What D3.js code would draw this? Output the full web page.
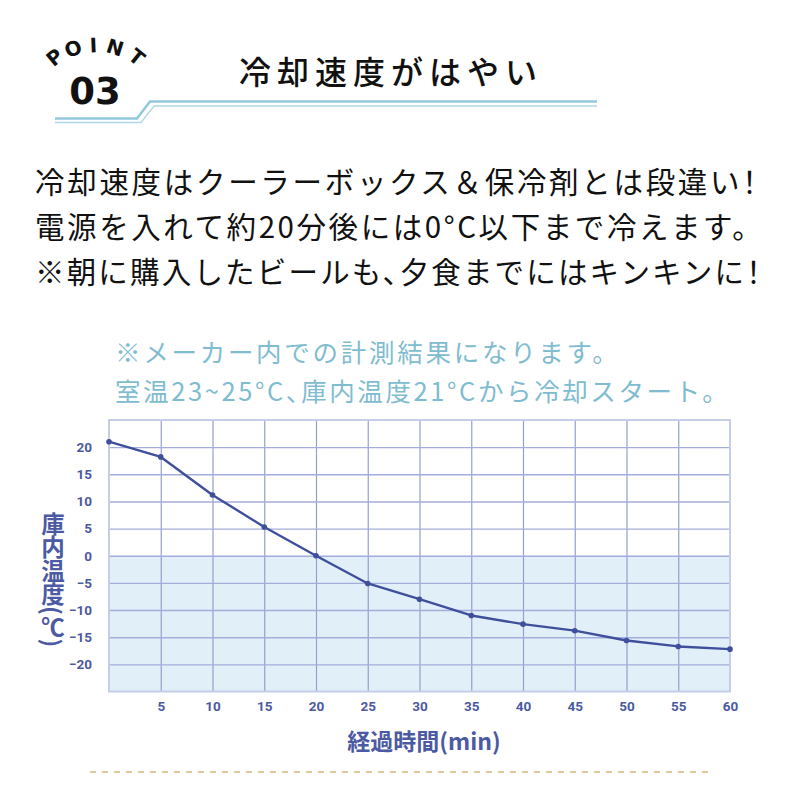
<!DOCTYPE html>
<html><head><meta charset="utf-8">
<script src="https://cdn.jsdelivr.net/npm/d3@7"></script>
<style>
html,body{margin:0;padding:0;background:#fff;}
svg{display:block;}
</style></head>
<body>
<svg id="c" width="800" height="800"></svg>
<script>
// ---- data ----
const minutes = [0,5,10,15,20,25,30,35,40,45,50,55,60];
const temps   = [21,18.2,11.2,5.3,0,-5.1,-8,-11,-12.6,-13.8,-15.6,-16.7,-17.2];
const xTickValues = [5,10,15,20,25,30,35,40,45,50,55,60];
const yTickValues = [-20,-15,-10,-5,0,5,10,15,20];
const pointLetters = ["P","O","I","N","T"];
const pointAngles = [-33,-17.5,-2,14.5,32.5];
const pointNumber = "03";
const titleText = "冷却速度がはやい";
const bodyLines = [
  "冷却速度はクーラーボックス＆保冷剤とは段違い！",
  "電源を入れて約20分後には0°C以下まで冷えます。",
  "※朝に購入したビールも、夕食までにはキンキンに！"
];
const noteLines = [
  "※メーカー内での計測結果になります。",
  "室温23~25°C、庫内温度21°Cから冷却スタート。"
];
const yTitle = "庫内温度(℃)";
const xTitle = "経過時間(min)";

const svg = d3.select("#c");
const CJK = "'Noto Sans CJK JP','Noto Sans',sans-serif";

// ---- header ----
const pc = {x:96, y:121, r:76};
svg.append("g").selectAll("text").data(pointLetters).join("text")
  .attr("transform",(d,i)=>{
    const a = pointAngles[i]*Math.PI/180;
    const px = pc.x + pc.r*Math.sin(a), py = pc.y - pc.r*Math.cos(a);
    return `translate(${px},${py}) rotate(${pointAngles[i]*1.2})`;
  })
  .attr("text-anchor","middle").attr("dy","0.36em")
  .style("font-family","'DejaVu Sans',sans-serif").style("font-weight",700)
  .style("font-size","20px").attr("fill","#111").text(d=>d);

svg.append("text").attr("x",95).attr("y",104).attr("text-anchor","middle")
  .style("font-family","'DejaVu Sans',sans-serif").style("font-weight",700)
  .style("font-size","37px").attr("fill","#111").text(pointNumber);

svg.append("text").attr("x",239).attr("y",84)
  .style("font-family",CJK).style("font-weight",500)
  .style("font-size","32px").style("letter-spacing","6px")
  .attr("fill","#111").text(titleText);

svg.append("path").attr("d","M55,118.5 L137,118.5 L150,101.5 L597,101.5")
  .attr("fill","none").attr("stroke","#94c8dc").attr("stroke-width",2.6);
svg.append("path").attr("d","M55,122.5 L141,122.5 L154,106 L597,106")
  .attr("fill","none").attr("stroke","#b0d8e6").attr("stroke-width",1.4);

// ---- body text ----
const bodyLen = [722, 712, 726];
svg.append("g").selectAll("text").data(bodyLines).join("text")
  .attr("x",35).attr("y",(d,i)=>193+i*45)
  .attr("textLength",(d,i)=>bodyLen[i]).attr("lengthAdjust","spacing")
  .style("font-feature-settings","'halt' 1")
  .style("font-family",CJK).style("font-weight",400)
  .style("font-size","29.5px").attr("fill","#111").text(d=>d);

const noteLen = [490, 600];
svg.append("g").selectAll("text").data(noteLines).join("text")
  .attr("x",115).attr("y",(d,i)=>362+i*39)
  .attr("textLength",(d,i)=>noteLen[i]).attr("lengthAdjust","spacing")
  .style("font-feature-settings","'halt' 1")
  .style("font-family",CJK).style("font-weight",400)
  .style("font-size","25.5px").attr("fill","#80bccf").text(d=>d);

// ---- chart ----
const x = d3.scaleLinear().domain([0,60]).range([109,730]);
const y = d3.scaleLinear().domain([-25,25]).range([691.5,420]);
const g = svg.append("g");

g.append("rect").attr("x",x(0)).attr("y",y(0)).attr("width",x(60)-x(0)).attr("height",y(-25)-y(0)).attr("fill","#e1f0f8");

const gridX = g.append("g").attr("transform",`translate(0,${y(-25)})`)
  .call(d3.axisBottom(x).tickValues(xTickValues.filter(v=>v<60)).tickSize(-(y(-25)-y(25))).tickFormat(""));
gridX.select(".domain").remove();
gridX.selectAll("line").attr("stroke","#939fcf").attr("stroke-width",1.2);
const gridY = g.append("g").attr("transform",`translate(${x(0)},0)`)
  .call(d3.axisLeft(y).tickValues(yTickValues).tickSize(-(x(60)-x(0))).tickFormat(""));
gridY.select(".domain").remove();
gridY.selectAll("line").attr("stroke","#a3addb").attr("stroke-width",1.4);
g.append("rect").attr("x",x(0)).attr("y",y(25)).attr("width",x(60)-x(0)).attr("height",y(-25)-y(25))
  .attr("fill","none").attr("stroke","#c6cee6").attr("stroke-width",2);

const tickFont = s => s.style("font-family","Roboto,sans-serif").style("font-weight",700).style("font-size","13.5px").attr("fill","#4b5a9f");
const ax = g.append("g").attr("transform",`translate(0,${y(-25)})`)
  .call(d3.axisBottom(x).tickValues(xTickValues).tickSize(0).tickPadding(10));
ax.select(".domain").remove();
ax.selectAll("text").call(tickFont);
const ay = g.append("g").attr("transform",`translate(${x(0)},0)`)
  .call(d3.axisLeft(y).tickValues(yTickValues).tickSize(0).tickPadding(17));
ay.select(".domain").remove();
ay.selectAll("text").call(tickFont);

const data = minutes.map((m,i)=>({m, t:temps[i]}));
g.append("path").datum(data)
  .attr("d", d3.line().x(d=>x(d.m)).y(d=>y(d.t)))
  .attr("fill","none").attr("stroke","#3e4f9c").attr("stroke-width",2.4).attr("stroke-linejoin","round");
g.append("g").selectAll("circle").data(data).join("circle")
  .attr("cx",d=>x(d.m)).attr("cy",d=>y(d.t)).attr("r",2.8).attr("fill","#3e4f9c");

// titles
svg.append("text").attr("x",53).attr("y",512)
  .style("writing-mode","vertical-rl").style("text-orientation","mixed")
  .style("font-family",CJK).style("font-weight",700).style("font-size","23.5px")
  .attr("fill","#4b5aa2").text(yTitle);

svg.append("text").attr("x",424).attr("y",750).attr("text-anchor","middle")
  .style("font-family",CJK).style("font-weight",700).style("font-size","23px")
  .attr("fill","#4b5aa2").text(xTitle);

svg.append("line").attr("x1",90).attr("x2",712).attr("y1",772).attr("y2",772)
  .attr("stroke","#dcc9a0").attr("stroke-width",2).attr("stroke-dasharray","6,6");
</script>
</body></html>
